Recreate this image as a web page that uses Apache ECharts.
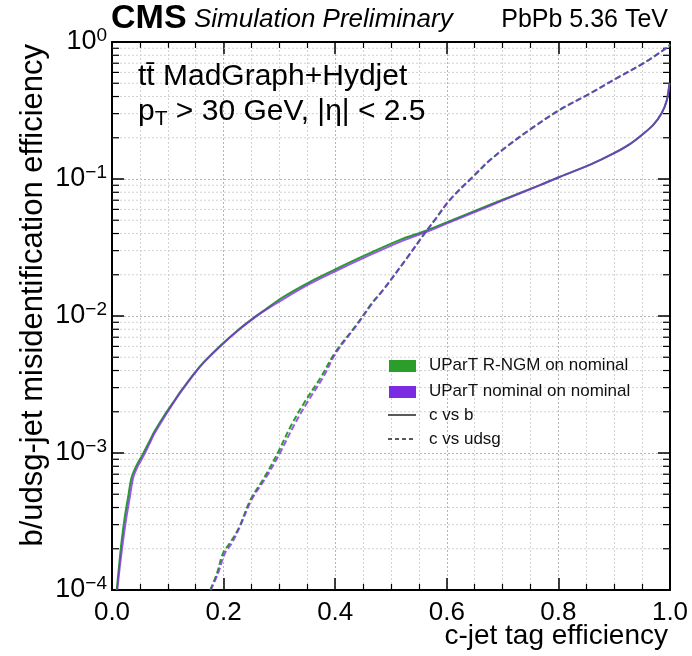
<!DOCTYPE html>
<html>
<head>
<meta charset="utf-8">
<script src="https://cdn.jsdelivr.net/npm/echarts@6/dist/echarts.min.js"></script>
<style>
  html, body { margin: 0; padding: 0; background: #fff; }
  #chart { width: 692px; height: 656px; }
</style>
</head>
<body>
<div id="chart"></div>
<script>
// ---- c-tagging performance: UParT R-NGM vs nominal, evaluated on nominal sample ----

// c vs b (solid), UParT R-NGM on nominal
const rngmCvsBEff = [0.0085, 0.0125, 0.0175, 0.023, 0.029, 0.035, 0.044, 0.055, 0.069, 0.075, 0.093, 0.109, 0.124, 0.148, 0.166, 0.196, 0.225, 0.255, 0.273, 0.306, 0.354, 0.400, 0.455, 0.515, 0.564, 0.606, 0.648, 0.707, 0.767, 0.802, 0.857, 0.898, 0.928, 0.952, 0.970, 0.985, 0.994, 0.999];
const rngmCvsBMis = [1.0e-4, 1.48e-4, 2.32e-4, 3.43e-4, 4.79e-4, 6.61e-4, 8.13e-4, 9.77e-4, 1.26e-3, 1.41e-3, 1.86e-3, 2.32e-3, 2.85e-3, 3.85e-3, 4.68e-3, 6.17e-3, 7.85e-3, 9.77e-3, 1.10e-2, 1.37e-2, 1.77e-2, 2.19e-2, 2.79e-2, 3.58e-2, 4.22e-2, 4.94e-2, 5.81e-2, 7.24e-2, 9.02e-2, 0.1035, 0.1273, 0.1531, 0.1799, 0.2138, 0.2483, 0.302, 0.372, 0.50];

// c vs b (solid), UParT nominal on nominal
const nomCvsBEff = [0.0095, 0.014, 0.020, 0.026, 0.032, 0.038, 0.047, 0.058, 0.071, 0.077, 0.095, 0.110, 0.125, 0.149, 0.167, 0.197, 0.226, 0.256, 0.274, 0.307, 0.355, 0.401, 0.456, 0.516, 0.564, 0.606, 0.648, 0.707, 0.767, 0.802, 0.857, 0.898, 0.928, 0.952, 0.970, 0.985, 0.994, 0.999];
const nomCvsBMis = [1.0e-4, 1.48e-4, 2.32e-4, 3.43e-4, 4.79e-4, 6.61e-4, 8.13e-4, 9.77e-4, 1.26e-3, 1.41e-3, 1.86e-3, 2.32e-3, 2.85e-3, 3.85e-3, 4.68e-3, 6.17e-3, 7.85e-3, 9.77e-3, 1.10e-2, 1.33e-2, 1.72e-2, 2.13e-2, 2.71e-2, 3.48e-2, 4.12e-2, 4.84e-2, 5.69e-2, 7.16e-2, 9.02e-2, 0.1035, 0.1273, 0.1531, 0.1799, 0.2138, 0.2483, 0.302, 0.372, 0.50];

// c vs udsg (dashed), UParT R-NGM on nominal
const rngmCvsLEff = [0.176, 0.188, 0.199, 0.211, 0.228, 0.248, 0.274, 0.297, 0.320, 0.344, 0.375, 0.399, 0.437, 0.467, 0.486, 0.528, 0.558, 0.582, 0.606, 0.648, 0.677, 0.707, 0.752, 0.802, 0.857, 0.904, 0.952, 0.997, 1.0];
const rngmCvsLMis = [1.0e-4, 1.32e-4, 1.86e-4, 2.19e-4, 2.88e-4, 4.54e-4, 6.73e-4, 1.0e-3, 1.56e-3, 2.31e-3, 3.61e-3, 5.35e-3, 8.51e-3, 1.26e-2, 1.55e-2, 2.63e-2, 3.89e-2, 5.25e-2, 7.08e-2, 0.105, 0.137, 0.172, 0.234, 0.319, 0.422, 0.543, 0.698, 0.925, 0.96];

// c vs udsg (dashed), UParT nominal on nominal
const nomCvsLEff = [0.177, 0.190, 0.2025, 0.2145, 0.229, 0.250, 0.277, 0.301, 0.325, 0.349, 0.379, 0.401, 0.438, 0.468, 0.486, 0.528, 0.558, 0.582, 0.606, 0.648, 0.677, 0.707, 0.752, 0.802, 0.857, 0.904, 0.952, 0.997, 1.0];
const nomCvsLMis = [1.0e-4, 1.32e-4, 1.86e-4, 2.19e-4, 2.88e-4, 4.54e-4, 6.73e-4, 1.0e-3, 1.56e-3, 2.31e-3, 3.61e-3, 5.35e-3, 8.51e-3, 1.26e-2, 1.55e-2, 2.63e-2, 3.89e-2, 5.25e-2, 7.08e-2, 0.105, 0.137, 0.172, 0.234, 0.319, 0.422, 0.543, 0.698, 0.925, 0.96];

// axis ranges
const xRange = [0, 1];
const yRange = [1e-4, 1];
const xMajorStep = 0.2;

// minor log ticks: 2..9 x 10^k inside the y range
const yMinorValues = [];
for (let k = -4; k < 0; k++) {
  for (let m = 2; m <= 9; m++) yMinorValues.push(m * Math.pow(10, k));
}

const FONT = '"Liberation Sans", Arial, Helvetica, sans-serif';
const GREEN = '#2a9d2a';
const PURPLE = '#7b2be2';
const GRID_MAJOR = '#b4b4b4';
const GRID_MINOR = '#d2d2d2';

const zip = (xs, ys) => xs.map((x, i) => [x, ys[i]]);

const chart = echarts.init(document.getElementById('chart'), null, { renderer: 'canvas' });

const gridBox = { left: 112, right: 22, top: 42, bottom: 66 };

function supLabel(v) {
  const e = Math.round(Math.log10(v));
  const exp = e < 0 ? '\u2212' + (-e) : String(e);
  return '{b|10}{s|' + exp + '}';
}

const commonX = {
  type: 'value', min: xRange[0], max: xRange[1], interval: xMajorStep,
  axisLine: { show: true, onZero: false, lineStyle: { color: '#000', width: 2 } },
  axisTick: { show: true, inside: true, length: 12, lineStyle: { color: '#000', width: 1.5 } },
  minorTick: { show: true, splitNumber: 4, length: 6, lineStyle: { color: '#000', width: 1.2 } },
};

const commonY = {
  type: 'log', logBase: 10, min: yRange[0], max: yRange[1],
  axisLine: { show: true, onZero: false, lineStyle: { color: '#000', width: 2 } },
  axisTick: { show: true, inside: true, length: 12, lineStyle: { color: '#000', width: 1.5 } },
};

const option = {
  backgroundColor: '#fff',
  animation: false,
  grid: gridBox,
  xAxis: [
    Object.assign({}, commonX, {
      position: 'bottom',
      axisLabel: { show: true, fontFamily: FONT, fontSize: 26, color: '#000', margin: 10,
        formatter: v => v.toFixed(1) },
      splitLine: { show: true, lineStyle: { color: GRID_MAJOR, type: [2, 2], width: 1 } },
      minorSplitLine: { show: true, lineStyle: { color: GRID_MINOR, type: [2, 2], width: 1 } },
    }),
    Object.assign({}, commonX, {
      position: 'top',
      axisLabel: { show: false },
      splitLine: { show: false },
    }),
  ],
  yAxis: [
    Object.assign({}, commonY, {
      position: 'left',
      axisLabel: {
        show: true, margin: 5, formatter: supLabel,
        rich: {
          b: { fontFamily: FONT, fontSize: 27, color: '#000', lineHeight: 32 },
          s: { fontFamily: FONT, fontSize: 19, color: '#000', lineHeight: 19, verticalAlign: 'top' },
        },
      },
      splitLine: { show: true, lineStyle: { color: GRID_MAJOR, type: [2, 2], width: 1 } },
    }),
    Object.assign({}, commonY, {
      position: 'right',
      axisLabel: { show: false },
      splitLine: { show: false },
    }),
  ],
  series: [
    {
      // minor log grid lines and ticks on both vertical edges
      type: 'custom', xAxisIndex: 0, yAxisIndex: 0, silent: true, z: 1,
      data: yMinorValues.map(v => [0, v]),
      renderItem: function (params, api) {
        const p = api.coord([0, api.value(1)]);
        const cs = params.coordSys;
        const x0 = cs.x, x1 = cs.x + cs.width;
        return {
          type: 'group',
          children: [
            { type: 'line', shape: { x1: x0, y1: p[1], x2: x1, y2: p[1] },
              style: { stroke: GRID_MINOR, lineWidth: 1, lineDash: [2, 2] } },
            { type: 'line', shape: { x1: x0, y1: p[1], x2: x0 + 7, y2: p[1] },
              style: { stroke: '#000', lineWidth: 1.2 } },
            { type: 'line', shape: { x1: x1 - 7, y1: p[1], x2: x1, y2: p[1] },
              style: { stroke: '#000', lineWidth: 1.2 } },
          ],
        };
      },
    },
    {
      name: 'UParT R-NGM on nominal c vs b', type: 'line', smooth: 0.35, showSymbol: false, z: 3,
      data: zip(rngmCvsBEff, rngmCvsBMis),
      lineStyle: { color: GREEN, width: 2 },
    },
    {
      name: 'UParT R-NGM on nominal c vs udsg', type: 'line', smooth: 0.35, showSymbol: false, z: 3,
      data: zip(rngmCvsLEff, rngmCvsLMis),
      lineStyle: { color: GREEN, width: 2, type: [6, 3] },
    },
    {
      name: 'UParT nominal on nominal c vs b', type: 'line', smooth: 0.35, showSymbol: false, z: 4,
      data: zip(nomCvsBEff, nomCvsBMis),
      lineStyle: { color: PURPLE, width: 2, opacity: 0.78 },
    },
    {
      name: 'UParT nominal on nominal c vs udsg', type: 'line', smooth: 0.35, showSymbol: false, z: 4,
      data: zip(nomCvsLEff, nomCvsLMis),
      lineStyle: { color: PURPLE, width: 2, opacity: 0.78, type: [6, 3] },
    },
  ],
  graphic: [
    // header
    { type: 'text', left: 111, top: 2, z: 10,
      style: { text: 'CMS', font: 'bold 34px ' + FONT, fill: '#000' } },
    { type: 'text', left: 194, top: 7, z: 10,
      style: { text: 'Simulation Preliminary', font: 'italic 26px ' + FONT, fill: '#000' } },
    { type: 'text', right: 24, top: 8, z: 10,
      style: { text: 'PbPb 5.36 TeV', font: '25px ' + FONT, fill: '#000' } },
    // sample / selection labels
    { type: 'text', left: 138, top: 62, z: 10,
      style: { text: 'tt\u0304 MadGraph+Hydjet', font: '30px ' + FONT, fill: '#000' } },
    { type: 'text', left: 138, top: 97, z: 10,
      style: {
        text: '{n|p}{sub|T}{n| > 30 GeV, |\u03b7| < 2.5}',
        rich: {
          n: { fontFamily: FONT, fontSize: 30, color: '#000', lineHeight: 35 },
          sub: { fontFamily: FONT, fontSize: 21, color: '#000', lineHeight: 25, verticalAlign: 'bottom' },
        },
      } },
    // axis titles
    { type: 'text', right: 24, top: 622, z: 10,
      style: { text: 'c-jet tag efficiency', font: '28px ' + FONT, fill: '#000' } },
    { type: 'text', x: 33, y: 44, rotation: Math.PI / 2, z: 10,
      style: { text: 'b/udsg-jet misidentification efficiency', font: '31px ' + FONT, fill: '#000',
        align: 'right', verticalAlign: 'middle' } },
    // legend
    { type: 'rect', shape: { x: 389, y: 360, width: 27, height: 12 }, style: { fill: GREEN }, z: 10 },
    { type: 'rect', shape: { x: 389, y: 386, width: 27, height: 12 }, style: { fill: PURPLE }, z: 10 },
    { type: 'line', shape: { x1: 388, y1: 415, x2: 416, y2: 415 }, style: { stroke: '#222', lineWidth: 1.5 }, z: 10 },
    { type: 'line', shape: { x1: 388, y1: 439, x2: 416, y2: 439 }, style: { stroke: '#222', lineWidth: 1.5, lineDash: [4, 3] }, z: 10 },
    { type: 'text', x: 429, y: 365, z: 10,
      style: { text: 'UParT R-NGM on nominal', font: '17px ' + FONT, fill: '#111', verticalAlign: 'middle' } },
    { type: 'text', x: 429, y: 391, z: 10,
      style: { text: 'UParT nominal on nominal', font: '17px ' + FONT, fill: '#111', verticalAlign: 'middle' } },
    { type: 'text', x: 429, y: 415, z: 10,
      style: { text: 'c vs b', font: '17px ' + FONT, fill: '#111', verticalAlign: 'middle' } },
    { type: 'text', x: 429, y: 439, z: 10,
      style: { text: 'c vs udsg', font: '17px ' + FONT, fill: '#111', verticalAlign: 'middle' } },
  ],
};

chart.setOption(option);
</script>
</body>
</html>
